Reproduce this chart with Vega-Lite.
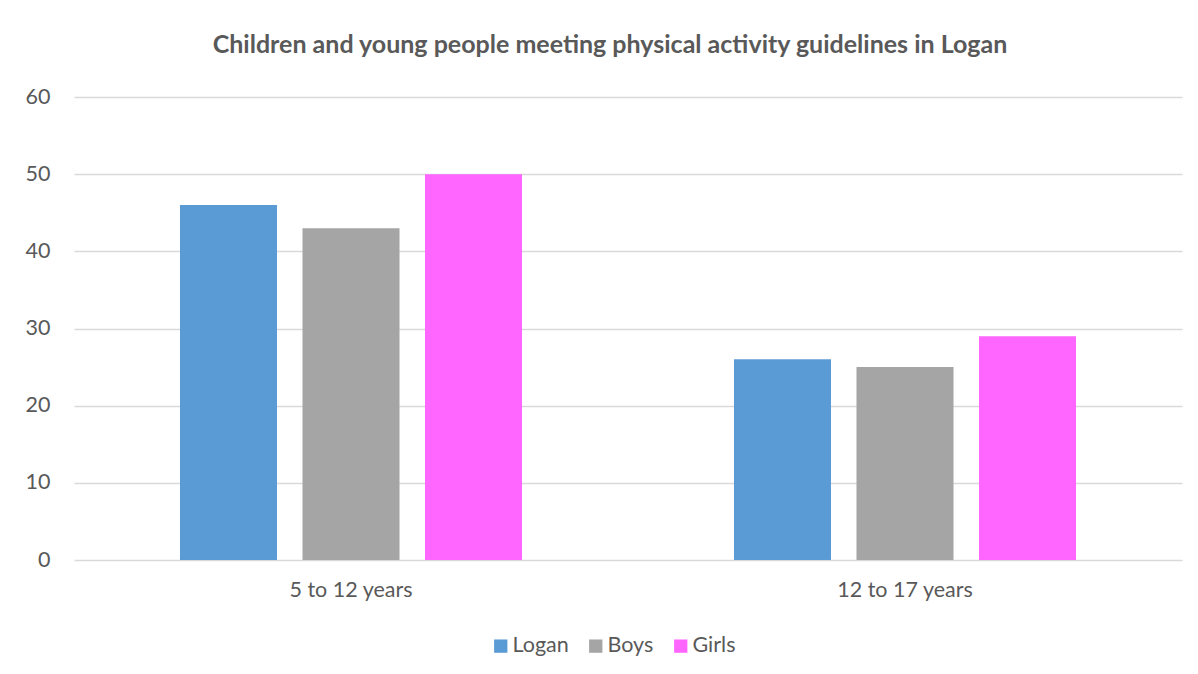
{
  "$schema": "https://vega.github.io/schema/vega-lite/v6.json",
  "autosize": {"type": "none"},
  "width": 1108,
  "height": 463,
  "padding": {"left": 74, "top": 97, "right": 16, "bottom": 114},
  "background": "white",
  "title": {
    "text": "Children and young people meeting physical activity guidelines in Logan",
    "font": "Lato",
    "fontSize": 25,
    "fontWeight": "bold",
    "color": "#595959",
    "anchor": "middle",
    "frame": "group",
    "dx": -18,
    "offset": 28
  },
  "data": {
    "values": [
      {"age": "5 to 12 years", "group": "Logan", "value": 46},
      {"age": "5 to 12 years", "group": "Boys", "value": 43},
      {"age": "5 to 12 years", "group": "Girls", "value": 50},
      {"age": "12 to 17 years", "group": "Logan", "value": 26},
      {"age": "12 to 17 years", "group": "Boys", "value": 25},
      {"age": "12 to 17 years", "group": "Girls", "value": 29}
    ]
  },
  "mark": {"type": "bar"},
  "encoding": {
    "x": {
      "field": "age",
      "type": "nominal",
      "sort": ["5 to 12 years", "12 to 17 years"],
      "scale": {"paddingInner": 0, "paddingOuter": 0},
      "axis": {
        "title": null,
        "labelAngle": 0,
        "ticks": false,
        "domain": false,
        "labelFont": "Lato",
        "labelFontSize": 21.5,
        "labelColor": "#595959",
        "labelPadding": 19
      }
    },
    "xOffset": {
      "field": "group",
      "type": "nominal",
      "sort": ["Logan", "Boys", "Girls"],
      "scale": {"paddingInner": 0.208, "paddingOuter": 0.865}
    },
    "y": {
      "field": "value",
      "type": "quantitative",
      "scale": {"domain": [0, 60]},
      "axis": {
        "title": null,
        "values": [0, 10, 20, 30, 40, 50, 60],
        "labelOverlap": false,
        "ticks": false,
        "domain": false,
        "grid": true,
        "gridColor": "#D9D9D9",
        "gridWidth": 1.3,
        "labelFont": "Lato",
        "labelFontSize": 21.5,
        "labelColor": "#595959",
        "labelPadding": 24
      }
    },
    "color": {
      "field": "group",
      "type": "nominal",
      "sort": ["Logan", "Boys", "Girls"],
      "scale": {"domain": ["Logan", "Boys", "Girls"], "range": ["#5B9BD5", "#A5A5A5", "#FF66FF"]},
      "legend": {
        "title": null,
        "orient": "none",
        "direction": "horizontal",
        "legendX": 416,
        "legendY": 538,
        "symbolType": "square",
        "symbolSize": 177,
        "symbolStrokeWidth": 0,
        "labelFont": "Lato",
        "labelFontSize": 21.5,
        "labelColor": "#595959",
        "labelOffset": 1,
        "columnPadding": 16
      }
    }
  },
  "config": {
    "view": {"stroke": null}
  }
}
